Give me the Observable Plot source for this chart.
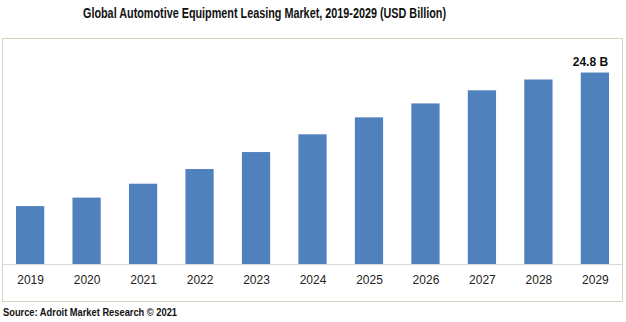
<!DOCTYPE html>
<html>
<head>
<meta charset="utf-8">
<script src="https://cdn.jsdelivr.net/npm/d3@7"></script>
<script src="https://cdn.jsdelivr.net/npm/@observablehq/plot@0.6"></script>
<style>
  html, body { margin: 0; padding: 0; background: #fff; }
  #wrap { position: relative; width: 626px; height: 322px; overflow: hidden; }
  #title { position: absolute; left: 83px; top: 5px; font-family: "Liberation Sans", Arial, sans-serif; font-weight: bold; font-size: 14px; color: #111; white-space: nowrap; transform-origin: 0 0; }
  #frame { position: absolute; left: 2px; top: 38px; width: 619px; height: 262px; border: 1px solid #d9d4c2; }
  #frame svg { display: block; }
  #source { position: absolute; left: 3px; top: 306px; font-family: "Liberation Sans", Arial, sans-serif; font-weight: bold; font-size: 11px; color: #111; white-space: nowrap; transform-origin: 0 0; }
</style>
</head>
<body>
<div id="wrap">
  <div id="title">Global Automotive Equipment Leasing Market, 2019-2029 (USD Billion)</div>
  <div id="frame"></div>
  <div id="source">Source: Adroit Market Research © 2021</div>
</div>
<script>
const years = ["2019","2020","2021","2022","2023","2024","2025","2026","2027","2028","2029"];
const values = [7.5, 8.6, 10.4, 12.3, 14.5, 16.8, 19.0, 20.8, 22.5, 23.9, 24.8];
const labelYears = ["2029"];
const labelTexts = ["24.8 B"];

const data = years.map((year, i) => ({year, value: values[i]}));
const labels = labelYears.map((year, i) => ({year, value: values[years.indexOf(year)], text: labelTexts[i]}));

const chart = Plot.plot({
  width: 619,
  height: 262,
  marginLeft: 13,
  marginRight: 13,
  marginTop: 32,
  marginBottom: 37,
  style: {fontFamily: "'Liberation Sans', Arial, sans-serif", fontSize: "12px", background: "#fff"},
  x: {domain: years, paddingInner: 0.5, paddingOuter: 0, round: false, label: null, tickSize: 0, tickPadding: 11},
  y: {domain: [0, 25], axis: null},
  marks: [
    Plot.barY(data, {x: "year", y: "value", fill: "#4f81bd"}),
    Plot.ruleY([0], {stroke: "#d9d9d9", strokeWidth: 1, insetLeft: -13, insetRight: -13}),
    Plot.text(labels, {x: "year", y: "value", text: "text", dy: -11, dx: -5, fontWeight: "bold", fontSize: 12, fill: "#111"}),
    Plot.axisX({tickSize: 0, tickPadding: 11, fill: "#222", fontSize: 12, label: null})
  ]
});
document.getElementById("frame").appendChild(chart);

function fit(id, target) {
  const el = document.getElementById(id);
  const w = el.getBoundingClientRect().width;
  if (w > 0) el.style.transform = `scaleX(${target / w})`;
}
fit("title", 363);
fit("source", 174);
</script>
</body>
</html>
